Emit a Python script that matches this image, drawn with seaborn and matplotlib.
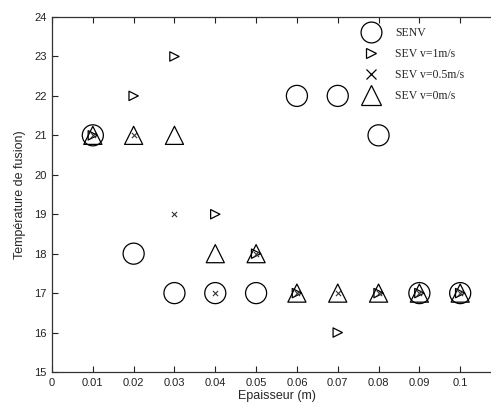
import matplotlib
matplotlib.use("Agg")
import matplotlib.pyplot as plt
import seaborn as sns
import pandas as pd
from matplotlib.lines import Line2D

epaisseur = [0.01, 0.02, 0.03, 0.04, 0.05, 0.06, 0.07, 0.08, 0.09, 0.10]
senv = [21, 18, 17, 17, 17, 22, 22, 21, 17, 17]
sev_v1 = [21, 22, 23, 19, 18, 17, 16, 17, 17, 17]
sev_v05 = [21, 21, 19, 17, 18, 17, 17, 17, 17, 17]
sev_v0 = [21, 21, 21, 18, 18, 17, 17, 17, 17, 17]
labels = ["SENV", "SEV v=1m/s", "SEV v=0.5m/s", "SEV v=0m/s"]
xticks = [0, 0.01, 0.02, 0.03, 0.04, 0.05, 0.06, 0.07, 0.08, 0.09, 0.1]
xticklabels = ["0", "0.01", "0.02", "0.03", "0.04", "0.05", "0.06", "0.07", "0.08", "0.09", "0.1"]
yticks = [15, 16, 17, 18, 19, 20, 21, 22, 23, 24]

sns.set_style("white")
plt.rcParams['font.family'] = ['Liberation Sans', 'DejaVu Sans']

fig = plt.figure(figsize=(4.91, 4.05), dpi=100)
ax = fig.add_axes([0.1059, 0.0815, 0.9145, 0.8765])

series = [senv, sev_v1, sev_v05, sev_v0]
markers = ["o", ">", "x", "^"]
sizes = [230, 45, 14, 170]
lws = [0.9, 0.9, 0.8, 0.9]
for vals, m, s, lw in zip(series, markers, sizes, lws):
    df = pd.DataFrame({"x": epaisseur, "y": vals})
    if m == "x":
        sns.scatterplot(data=df, x="x", y="y", marker=m, s=s, color="#333333",
                        linewidth=lw, ax=ax, legend=False, zorder=3)
    else:
        sns.scatterplot(data=df, x="x", y="y", marker=m, s=s, facecolor="none",
                        edgecolor="black", linewidth=lw, ax=ax, legend=False, zorder=3)

ax.set_xlim(0, 0.11)
ax.set_ylim(15, 24)
ax.set_xticks(xticks)
ax.set_xticklabels(xticklabels)
ax.set_yticks(yticks)
ax.tick_params(direction="in", length=4, width=0.8, labelsize=8, colors="#222222",
               top=True, bottom=True, left=True, right=False, pad=4)
for sp in ["left", "bottom", "top"]:
    ax.spines[sp].set_color("#333333")
    ax.spines[sp].set_linewidth(0.9)
ax.spines["right"].set_visible(False)
ax.set_xlabel("Epaisseur (m)", fontsize=9, labelpad=2)
ax.set_ylabel("Température de fusion)", fontsize=9, labelpad=6)

handles = [
    Line2D([], [], marker="o", ls="none", markersize=15, mfc="none", mec="black", mew=0.9),
    Line2D([], [], marker=">", ls="none", markersize=7, mfc="none", mec="black", mew=0.9),
    Line2D([], [], marker="x", ls="none", markersize=7, mec="black", mew=0.9),
    Line2D([], [], marker="^", ls="none", markersize=15, mfc="none", mec="black", mew=0.9),
]
leg = ax.legend(handles, labels, loc="upper left", bbox_to_anchor=(0.672, 0.996),
                frameon=False, prop={"family": "Liberation Serif", "size": 8.5},
                handlelength=1.5, handletextpad=1.3, labelspacing=0.78, borderaxespad=0.3)

fig.savefig("out.png", dpi=100)
